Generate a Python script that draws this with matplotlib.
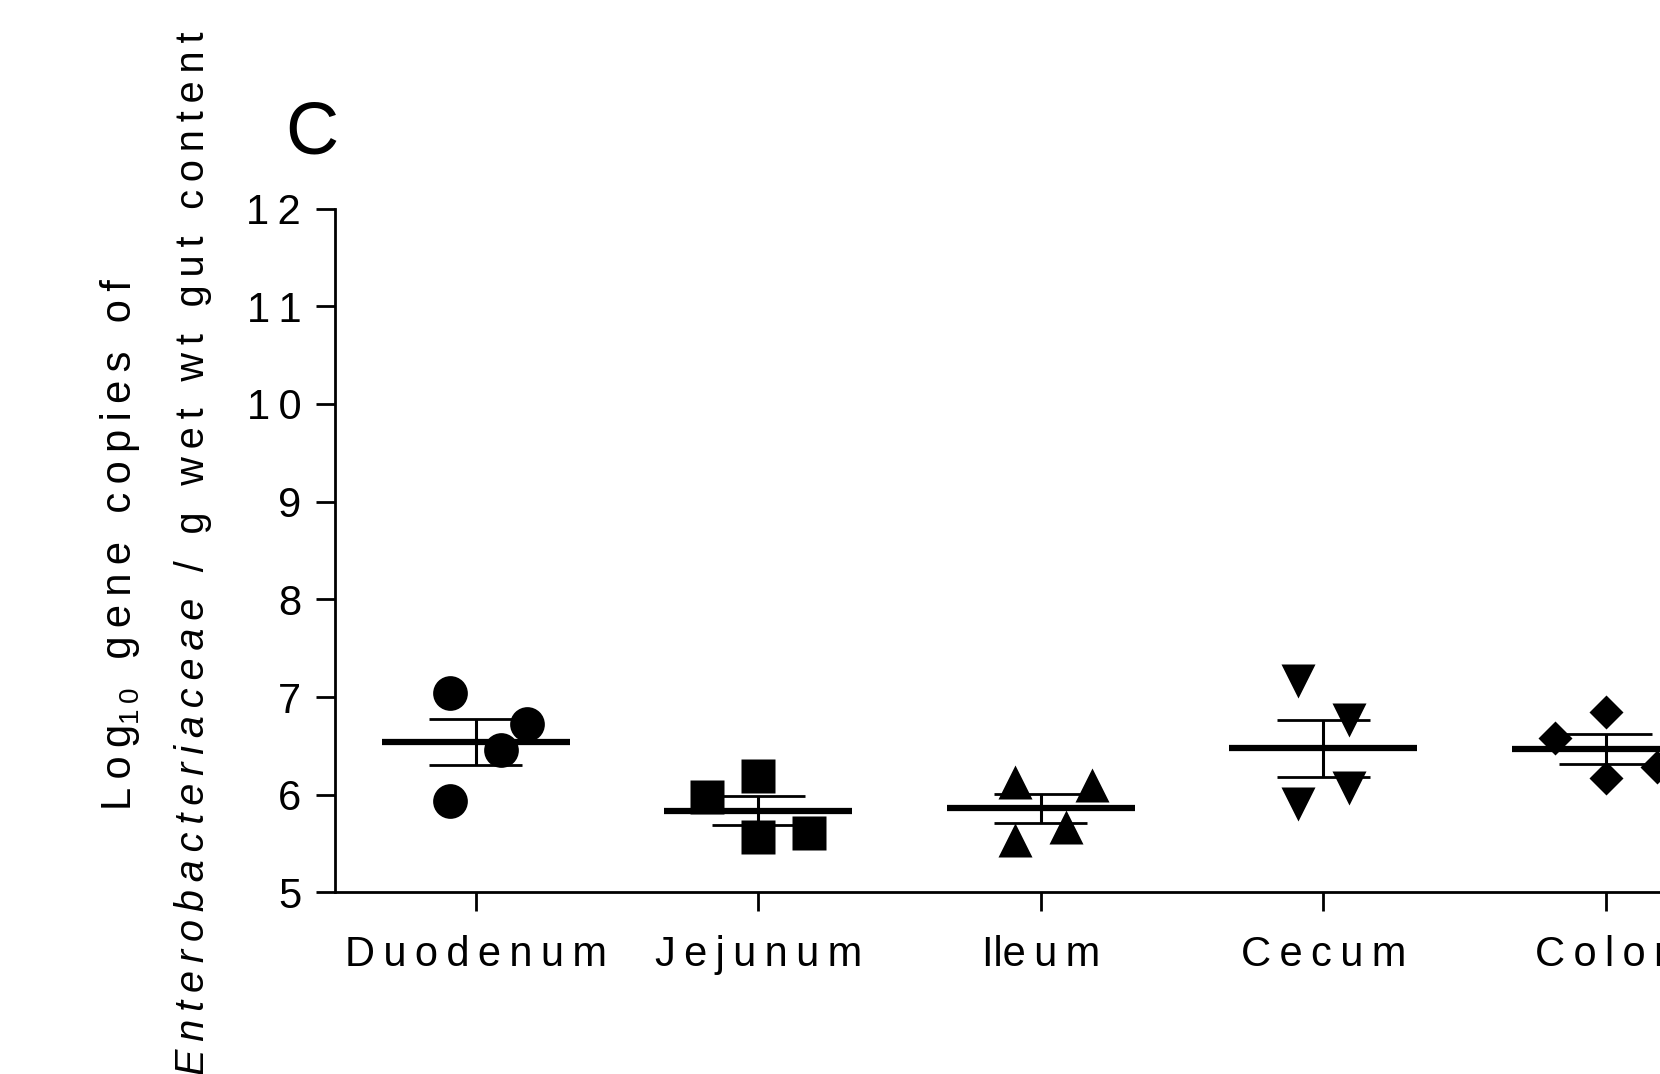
import numpy as np
import matplotlib
matplotlib.use('Agg')
import matplotlib.pyplot as plt

# data (log10 gene copies per g)
categories = ['Duodenum', 'Jejunum', 'Ileum', 'Cecum', 'Colon']
duodenum = [7.04, 6.72, 6.46, 5.94]
jejunum = [6.19, 5.98, 5.57, 5.61]
ileum = [6.13, 6.10, 5.54, 5.67]
cecum = [7.16, 6.76, 6.07, 5.91]
colon = [6.85, 6.58, 6.17, 6.28]
yticks = [5, 6, 7, 8, 9, 10, 11, 12]

# horizontal scatter of the points inside each group
jitter = [[-0.09, 0.18, 0.09, -0.09],
          [0.0, -0.18, 0.0, 0.18],
          [-0.09, 0.18, -0.09, 0.09],
          [-0.09, 0.09, 0.09, -0.09],
          [0.0, -0.18, 0.0, 0.18]]
markers = ['o', 's', '^', 'v', 'D']

W, H = 1660, 1074
SP = '\u2009'


def spaced(s):
    return SP.join(s)


plt.rcParams['font.family'] = ['Liberation Sans', 'DejaVu Sans']

fig = plt.figure(figsize=(W / 100, H / 100), dpi=100)
ax = fig.add_axes([334.5 / W, 1 - 892.4 / H, (1747 - 334.5) / W, (892.4 - 208.6) / H])

groups = [duodenum, jejunum, ileum, cecum, colon]
for i, (vals, dx, m) in enumerate(zip(groups, jitter, markers)):
    vals = np.array(vals)
    mean = vals.mean()
    sem = vals.std(ddof=1) / np.sqrt(len(vals))
    ms = 17.8 if m == 'D' else 25
    ax.plot(i + np.array(dx), vals, ls='none', marker=m, ms=ms, color='black',
            mec='none', zorder=3, clip_on=False)
    ax.plot([i - 0.333, i + 0.333], [mean, mean], color='black', lw=4.5,
            solid_capstyle='butt', zorder=4)
    ax.vlines(i, mean - sem, mean + sem, color='black', lw=2.2, zorder=4)
    ax.hlines([mean - sem, mean + sem], i - 0.165, i + 0.165, color='black',
              lw=2, zorder=4)

ax.set_xlim(-0.5, 4.5)
ax.set_ylim(5, 12)
ax.set_xticks(range(len(categories)))
xlabels = [spaced(c) for c in categories]
xlabels[2] = 'Ile' + SP + 'u' + SP + 'm'
ax.set_xticklabels(xlabels)
ax.set_yticks(yticks)
ax.set_yticklabels([spaced(str(t)) for t in yticks])

for side in ['top', 'right']:
    ax.spines[side].set_visible(False)
for side in ['left', 'bottom']:
    ax.spines[side].set_linewidth(2)
    ax.spines[side].set_capstyle('projecting')
ax.tick_params(axis='both', length=14, width=2, color='black')
ax.tick_params(axis='y', pad=10, labelsize=30)
ax.tick_params(axis='x', pad=17, labelsize=30)

# panel letter
fig.text(285 / W, 1 - 153.5 / H, 'C', fontsize=53, ha='left', va='baseline')

# y axis label, two rotated lines built from pieces
renderer = fig.canvas.get_renderer()


def vtext(x, y, s, size=30, **kw):
    return fig.text(x / W, 1 - y / H, s, rotation=90, rotation_mode='anchor',
                    ha='left', va='baseline', fontsize=size, **kw)


# line 1, starts at the bottom
x1, y1 = 131, 810
t = vtext(x1, y1, spaced('Log'))
y1 -= t.get_window_extent(renderer).height
t = vtext(x1 + 8, y1, spaced('10'), size=20)
y1 -= t.get_window_extent(renderer).height
vtext(x1, y1, SP + spaced(' gene copies of'))

# line 2, ends at the top
x2, top2, size2 = 204, 31, 28.5
rest = SP + spaced(' / g wet wt gut content')
t2 = vtext(x2, 0, rest, size=size2)
h2 = t2.get_window_extent(renderer).height
t2.remove()
t1 = vtext(x2, 0, spaced('Enterobacteriaceae'), size=size2, style='italic')
h1 = t1.get_window_extent(renderer).height
t1.remove()
ystart = top2 + h1 + h2
vtext(x2, ystart, spaced('Enterobacteriaceae'), size=size2, style='italic')
vtext(x2, ystart - h1, rest, size=size2)

fig.savefig('out.png', dpi=100)
